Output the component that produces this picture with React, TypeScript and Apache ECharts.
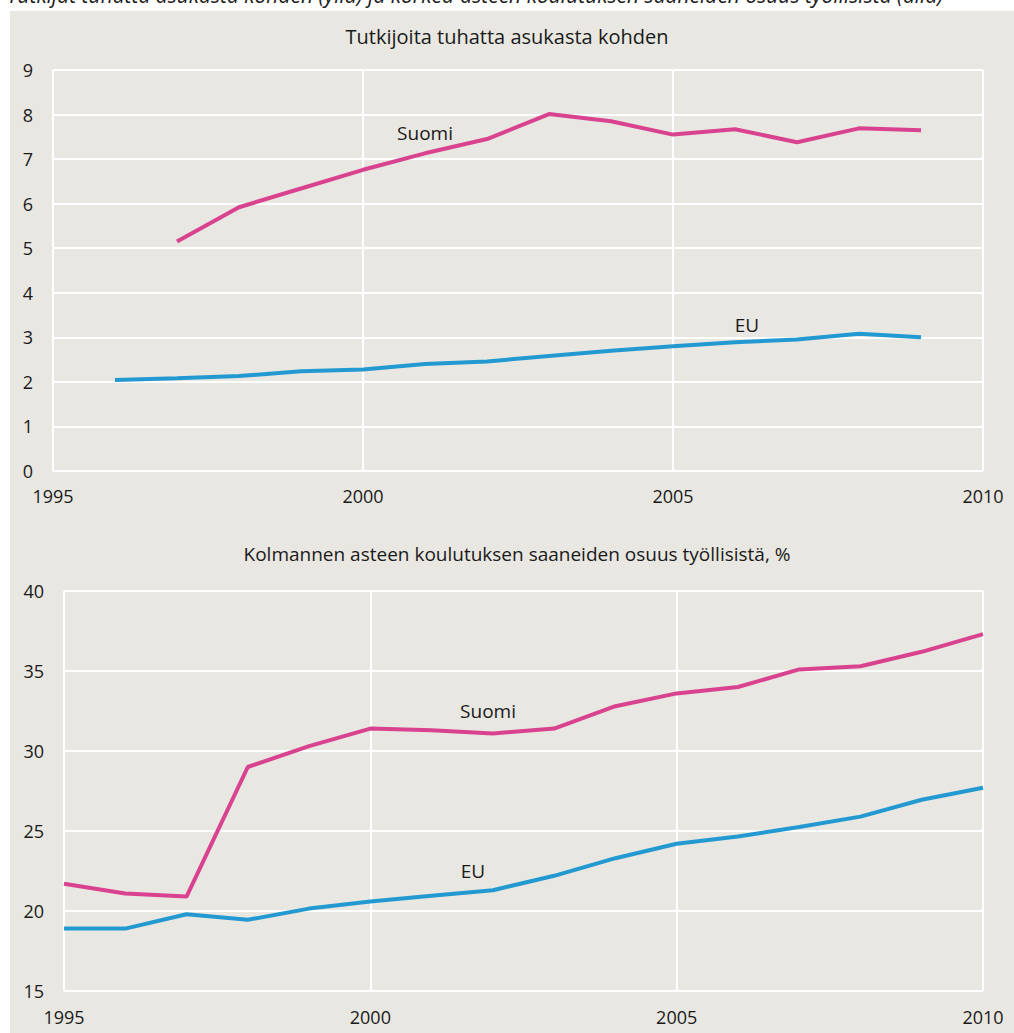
import React, { useEffect, useRef } from "react";
import * as echarts from "echarts";

const headerText =
  "Tutkijat tuhatta asukasta kohden (yllä) ja korkea-asteen koulutuksen saaneiden osuus työllisistä (alla)";
const topTitle = "Tutkijoita tuhatta asukasta kohden";
const bottomTitle = "Kolmannen asteen koulutuksen saaneiden osuus työllisistä, %";

const topYearsEU = [1996, 1997, 1998, 1999, 2000, 2001, 2002, 2003, 2004, 2005, 2006, 2007, 2008, 2009];
const topEU = [2.04, 2.08, 2.13, 2.24, 2.28, 2.4, 2.46, 2.58, 2.7, 2.8, 2.89, 2.95, 3.08, 3.0];
const topYearsFI = [1997, 1998, 1999, 2000, 2001, 2002, 2003, 2004, 2005, 2006, 2007, 2008, 2009];
const topFI = [5.15, 5.92, 6.34, 6.76, 7.13, 7.45, 8.01, 7.85, 7.55, 7.67, 7.38, 7.69, 7.65];

const bottomYears = [1995, 1996, 1997, 1998, 1999, 2000, 2001, 2002, 2003, 2004, 2005, 2006, 2007, 2008, 2009, 2010];
const bottomFI = [21.7, 21.1, 20.9, 29.0, 30.3, 31.4, 31.3, 31.1, 31.4, 32.8, 33.6, 34.0, 35.1, 35.3, 36.2, 37.3];
const bottomEU = [18.9, 18.9, 19.8, 19.45, 20.15, 20.6, 20.95, 21.3, 22.2, 23.3, 24.2, 24.65, 25.25, 25.9, 26.95, 27.7];

const PINK = "#d9428f";
const BLUE = "#2399d2";
const BG = "#e8e7e1";
const FONT = "'Open Sans', 'Noto Sans', sans-serif";

const pairs = (xs: number[], ys: number[]) => xs.map((x, i) => [x, ys[i]]);

export default function App() {
  const ref = useRef<HTMLDivElement>(null);
  useEffect(() => {
    if (!ref.current) return;
    const chart = echarts.init(ref.current, undefined, { renderer: "svg" });
    const axisLabel = { color: "#1a1a1a", fontSize: 18, fontFamily: FONT };
    const xAxisBase = {
      type: "value",
      min: 1995,
      max: 2010,
      interval: 5,
      axisLine: { show: false },
      axisTick: { show: false },
      splitLine: { show: true, lineStyle: { color: "#ffffff", width: 2 } },
      axisLabel: { ...axisLabel, margin: 16, formatter: (v: number) => String(v) },
    };
    const yAxisBase = {
      type: "value",
      axisLine: { show: false },
      axisTick: { show: false },
      splitLine: { show: true, lineStyle: { color: "#ffffff", width: 2 } },
      axisLabel: { ...axisLabel, margin: 20 },
    };
    const lineBase = {
      type: "line",
      showSymbol: false,
      symbol: "none",
      silent: true,
    };
    chart.setOption({
      animation: false,
      backgroundColor: "transparent",
      grid: [
        { left: 53, right: 31, top: 70, height: 401 },
        { left: 64, right: 31, top: 591, height: 400 },
      ],
      xAxis: [
        { ...xAxisBase, gridIndex: 0 },
        { ...xAxisBase, gridIndex: 1, axisLabel: { ...xAxisBase.axisLabel, margin: 17 } },
      ],
      yAxis: [
        { ...yAxisBase, gridIndex: 0, min: 0, max: 9, interval: 1 },
        { ...yAxisBase, gridIndex: 1, min: 15, max: 40, interval: 5 },
      ],
      series: [
        { ...lineBase, name: "Suomi", xAxisIndex: 0, yAxisIndex: 0, data: pairs(topYearsFI, topFI), color: PINK, lineStyle: { width: 4, color: PINK } },
        { ...lineBase, name: "EU", xAxisIndex: 0, yAxisIndex: 0, data: pairs(topYearsEU, topEU), color: BLUE, lineStyle: { width: 4, color: BLUE } },
        { ...lineBase, name: "Suomi", xAxisIndex: 1, yAxisIndex: 1, data: pairs(bottomYears, bottomFI), color: PINK, lineStyle: { width: 4, color: PINK } },
        { ...lineBase, name: "EU", xAxisIndex: 1, yAxisIndex: 1, data: pairs(bottomYears, bottomEU), color: BLUE, lineStyle: { width: 4, color: BLUE } },
      ],
      graphic: [
        {
          type: "text",
          left: 7,
          top: -16,
          style: { text: headerText, fill: "#1a1a1a", font: `italic 21px ${FONT}` },
        },
        {
          type: "text",
          x: 507,
          y: 36,
          style: { text: topTitle, fill: "#1a1a1a", font: `20px ${FONT}`, align: "center", verticalAlign: "middle" },
        },
        {
          type: "text",
          x: 517,
          y: 554,
          style: { text: bottomTitle, fill: "#1a1a1a", font: `19px ${FONT}`, align: "center", verticalAlign: "middle" },
        },
        {
          type: "text",
          x: 425,
          y: 133,
          style: { text: "Suomi", fill: "#1a1a1a", font: `19px ${FONT}`, align: "center", verticalAlign: "middle" },
        },
        {
          type: "text",
          x: 747,
          y: 325,
          style: { text: "EU", fill: "#1a1a1a", font: `19px ${FONT}`, align: "center", verticalAlign: "middle" },
        },
        {
          type: "text",
          x: 488,
          y: 711,
          style: { text: "Suomi", fill: "#1a1a1a", font: `19px ${FONT}`, align: "center", verticalAlign: "middle" },
        },
        {
          type: "text",
          x: 473,
          y: 871,
          style: { text: "EU", fill: "#1a1a1a", font: `19px ${FONT}`, align: "center", verticalAlign: "middle" },
        },
      ],
    });
    return () => chart.dispose();
  }, []);

  return (
    <div style={{ position: "absolute", left: 0, top: 0, width: 1014, height: 1033, background: "#ffffff", overflow: "hidden" }}>
      <div style={{ position: "absolute", left: 10, top: 11, width: 1004, height: 1022, background: BG }} />
      <div ref={ref} style={{ position: "absolute", left: 0, top: 0, width: 1014, height: 1033 }} />
    </div>
  );
}
